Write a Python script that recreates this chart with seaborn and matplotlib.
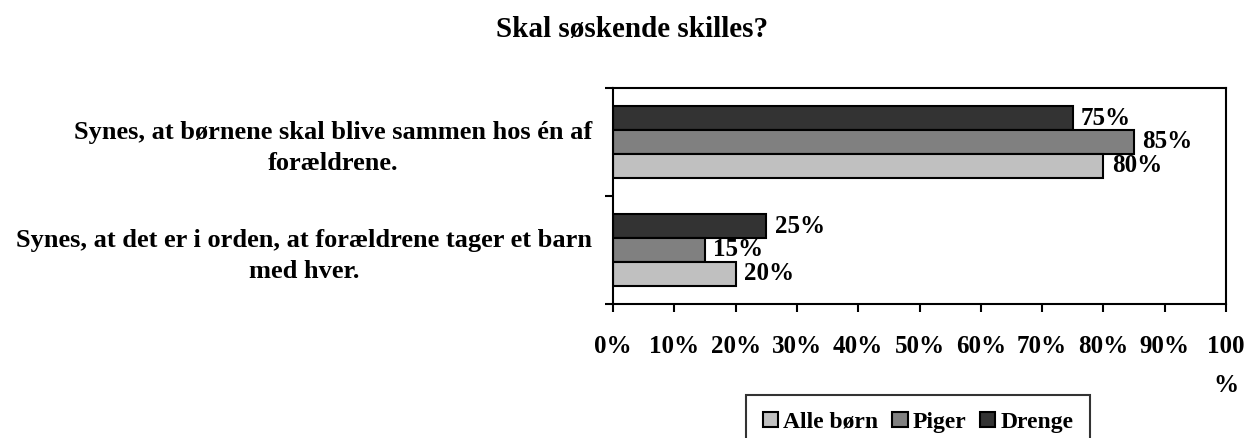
import matplotlib
matplotlib.use("Agg")
import matplotlib.pyplot as plt
from matplotlib.patches import Patch
from matplotlib.ticker import FixedLocator
import pandas as pd
import seaborn as sns

# --- DATI ---
categories = [
    "Synes, at børnene skal blive sammen hos én af\nforældrene.",
    "Synes, at det er i orden, at forældrene tager et barn\nmed hver.",
]
series_names = ["Drenge", "Piger", "Alle børn"]
drenge = [75, 25]
piger = [85, 15]
alle_born = [80, 20]
x_ticks = [0, 10, 20, 30, 40, 50, 60, 70, 80, 90, 100]
x_tick_labels = ["0%", "10%", "20%", "30%", "40%", "50%", "60%", "70%", "80%", "90%", "100\n%"]
title = "Skal søskende skilles?"

colors = {"Drenge": "#333333", "Piger": "#808080", "Alle børn": "#c0c0c0"}

rows = []
for name, vals in zip(series_names, [drenge, piger, alle_born]):
    for cat, v in zip(categories, vals):
        rows.append({"kategori": cat, "gruppe": name, "andel": v})
df = pd.DataFrame(rows)

sns.set_style("white")
plt.rcParams["font.family"] = ["Liberation Serif", "DejaVu Serif"]
plt.rcParams["font.weight"] = "bold"
plt.rcParams["text.color"] = "black"
plt.rcParams["xtick.color"] = "black"
plt.rcParams["ytick.color"] = "black"

fig = plt.figure(figsize=(12.47, 4.38), dpi=100)
ax = fig.add_axes([613 / 1247, 1 - 304 / 438, 613 / 1247, 216 / 438])

sns.barplot(data=df, x="andel", y="kategori", hue="gruppe", order=categories,
            hue_order=series_names, palette=colors, orient="h", width=0.66,
            edgecolor="black", linewidth=1.5, ax=ax, legend=False)

for cont in ax.containers:
    ax.bar_label(cont, fmt="%d%%", padding=6, fontsize=18, fontweight="bold")

ax.set_xlim(0, 100)
ax.set_xticks(x_ticks)
ax.set_xticklabels(x_tick_labels, fontsize=18, fontweight="bold", linespacing=1.9)
ax.tick_params(axis="x", direction="out", length=6, width=1.5, pad=16, bottom=True)

# kategorietiketter uden streg, streger mellem grupperne
ax.set_yticks([0, 1])
ax.set_yticklabels(categories, fontsize=19, fontweight="bold", multialignment="center",
                   linespacing=1.42)
ax.tick_params(axis="y", which="major", length=0, pad=15)
ax.yaxis.set_minor_locator(FixedLocator([-0.5, 0.5, 1.5]))
ax.tick_params(axis="y", which="minor", direction="out", length=6, width=1.5, left=True)

ax.set_xlabel("")
ax.set_ylabel("")
for sp in ax.spines.values():
    sp.set_visible(True)
    sp.set_color("black")
    sp.set_linewidth(1.5)

fig.text(632 / 1247, 1 - 37 / 438, title, ha="center", va="baseline",
         fontsize=21, fontweight="bold")

handles = [Patch(facecolor=colors[n], edgecolor="black", linewidth=1.5)
           for n in ["Alle børn", "Piger", "Drenge"]]
leg = fig.legend(handles, ["Alle børn", "Piger", "Drenge"], loc="upper center",
                 bbox_to_anchor=(918 / 1247, 1 - 395 / 438), ncol=3, frameon=True,
                 fancybox=False, edgecolor="black", fontsize=17, handlelength=0.65,
                 handleheight=0.65, handletextpad=0.2, columnspacing=0.6,
                 borderpad=0.7, borderaxespad=0)
leg.get_frame().set_linewidth(1.5)
for t in leg.get_texts():
    t.set_fontweight("bold")

fig.savefig("out.png", dpi=100)
